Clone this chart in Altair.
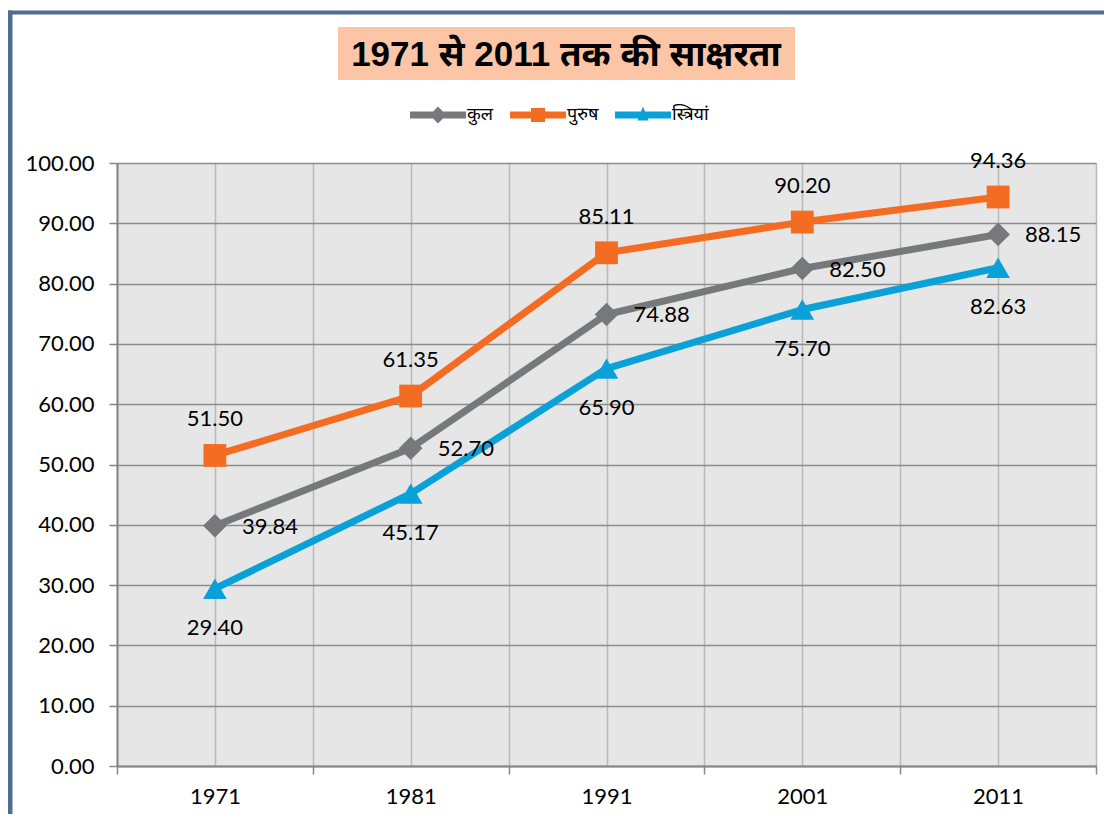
import altair as alt
import pandas as pd

# ---- data ----
years = [1971, 1981, 1991, 2001, 2011]
series_names = ["कुल", "पुरुष", "स्त्रियां"]
total = [39.84, 52.70, 74.88, 82.50, 88.15]
male = [51.50, 61.35, 85.11, 90.20, 94.36]
female = [29.40, 45.17, 65.90, 75.70, 82.63]
y_ticks = [0, 10, 20, 30, 40, 50, 60, 70, 80, 90, 100]
x_grid = [1966, 1971, 1976, 1981, 1986, 1991, 1996, 2001, 2006, 2011, 2016]
title_text = "1971 से 2011 तक की साक्षरता"

# ---- styles ----
colors = ["#77787B", "#F36C21", "#0AA1D9"]
shapes = ["diamond", "square", "triangle-up"]
sizes = [560, 520, 560]
legend_paths = [
    "M-1,-0.125 L-0.175,-0.125 L0,-0.3 L0.175,-0.125 L1,-0.125 L1,0.125 L0.175,0.125 L0,0.3 L-0.175,0.125 L-1,0.125 Z",
    "M-1,-0.125 L-0.25,-0.125 L-0.25,-0.25 L0.25,-0.25 L0.25,-0.125 L1,-0.125 L1,0.125 L0.25,0.125 L0.25,0.25 L-0.25,0.25 L-0.25,0.125 L-1,0.125 Z",
    "M-1,-0.125 L-0.07,-0.125 L0,-0.3 L0.07,-0.125 L1,-0.125 L1,0.125 L0.17,0.125 L0.2,0.2 L-0.2,0.2 L-0.17,0.125 L-1,0.125 Z",
]
label_style = [
    dict(align="left", dx=27, dy=1),
    dict(align="center", dx=0, dy=-36),
    dict(align="center", dx=0, dy=39),
]

W, H = 979, 603
NUM_FONT = "Lato"
DEV_FONT = "Noto Sans Devanagari, Lohit Devanagari, FreeSans, Noto Sans, sans-serif"

rows = []
for name, vals in zip(series_names, [total, male, female]):
    for yr, v in zip(years, vals):
        rows.append({"year": yr, "value": v, "series": name})
df = pd.DataFrame(rows)

x_enc = alt.X(
    "year:Q",
    scale=alt.Scale(domain=[1966, 2016], nice=False, zero=False),
    axis=alt.Axis(
        values=x_grid,
        format="d",
        labelExpr="datum.value % 10 == 1 ? datum.label : ''",
        title=None,
        grid=True,
        gridColor="#B9B9B9",
        gridWidth=1.5,
        domainColor="#868686",
        domainWidth=2,
        tickColor={"condition": {"test": "datum.value % 10 == 6", "value": "#868686"}, "value": "transparent"},
        tickSize=8,
        tickWidth=1.5,
        labelFont=NUM_FONT,
        labelFontSize=22,
        labelColor="#000000",
        labelPadding=12,
    ),
)
y_enc = alt.Y(
    "value:Q",
    scale=alt.Scale(domain=[0, 100], nice=False),
    axis=alt.Axis(
        values=y_ticks,
        format=".2f",
        title=None,
        grid=True,
        gridColor="#8C8C8C",
        gridWidth=1.5,
        domainColor="#868686",
        domainWidth=2,
        tickColor="#868686",
        tickSize=8,
        tickWidth=1.5,
        labelFont=NUM_FONT,
        labelFontSize=22,
        labelColor="#000000",
        labelPadding=15,
    ),
)

base = alt.Chart(df)
layers = []
for i, name in enumerate(series_names):
    sub = base.transform_filter(alt.datum.series == name)
    layers.append(
        sub.mark_line(color=colors[i], strokeWidth=7, strokeJoin="round").encode(x=x_enc, y=y_enc)
    )
for i, name in enumerate(series_names):
    sub = base.transform_filter(alt.datum.series == name)
    layers.append(
        sub.mark_point(shape=shapes[i], filled=True, opacity=1, color=colors[i], size=sizes[i]).encode(x="year:Q", y="value:Q")
    )
for i, name in enumerate(series_names):
    sub = base.transform_filter(alt.datum.series == name)
    layers.append(
        sub.mark_text(font=NUM_FONT, fontSize=22, color="#000000", baseline="middle", **label_style[i]).encode(
            x="year:Q", y="value:Q", text=alt.Text("value:Q", format=".2f")
        )
    )

legend_props = dict(
    title=None,
    orient="none",
    direction="horizontal",
    legendX=293,
    legendY=-76,
    symbolSize=3136,
    symbolStrokeWidth=0,
    symbolOpacity=1,
    labelFont=DEV_FONT,
    labelFontSize=18,
    labelColor="#000000",
    labelOffset=1,
    columnPadding=16,
)

# legend-only layer
legend_layer = base.transform_filter("false").mark_point(filled=True, opacity=1).encode(
    x="year:Q",
    y="value:Q",
    color=alt.Color(
        "series:N",
        scale=alt.Scale(domain=series_names, range=colors),
        legend=alt.Legend(**legend_props),
    ),
    shape=alt.Shape(
        "series:N",
        scale=alt.Scale(domain=series_names, range=legend_paths),
        legend=alt.Legend(**legend_props),
    ),
)

one = pd.DataFrame({"t": [title_text]})
title_bg = alt.Chart(one).mark_rect(color="#FCC5A5").encode(
    x=alt.value(221), x2=alt.value(678), y=alt.value(-136), y2=alt.value(-83)
)
title_txt = alt.Chart(one).mark_text(
    font="Liberation Sans, " + DEV_FONT, fontSize=35, fontWeight="bold", color="#000000", align="center", baseline="middle"
).encode(x=alt.value(449), y=alt.value(-108), text="t:N")
border_top = alt.Chart(one).mark_rule(color="#4F6D93", strokeWidth=4).encode(
    x=alt.value(-115), x2=alt.value(W + 40), y=alt.value(-150.5)
)
border_left = alt.Chart(one).mark_rule(color="#4F6D93", strokeWidth=5).encode(
    x=alt.value(-107), y=alt.value(-152.5), y2=alt.value(H + 60)
)

chart = alt.layer(
    title_bg, title_txt, border_top, border_left, *layers, legend_layer
).properties(
    width=W,
    height=H,
    autosize=alt.AutoSizeParams(type="none"),
    padding={"left": 109, "top": 155, "right": 8, "bottom": 48},
    background="#FFFFFF",
).configure_view(
    stroke=None, fill="#E6E6E6"
)

chart.save("out.html", embed_options={"renderer": "svg", "actions": False})
